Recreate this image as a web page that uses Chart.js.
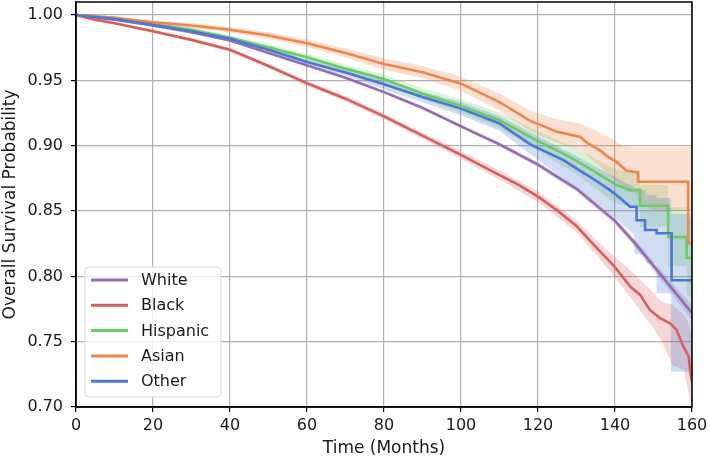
<!DOCTYPE html>
<html>
<head>
<meta charset="utf-8">
<script src="https://cdn.jsdelivr.net/npm/chart.js@4.4.1/dist/chart.umd.min.js"></script>
<style>
  html, body { margin: 0; padding: 0; background: #fff; }
  canvas { display: block; }
</style>
</head>
<body>
<canvas id="kmChart" width="709" height="460"></canvas>
<script>
// Kaplan-Meier survival by group
// repeated times = vertical drops of the step function
const groups = ["White", "Black", "Hispanic", "Asian", "Other"];
const colors = ["#956cb4", "#d65f5f", "#6acc64", "#ee854a", "#4878d0"];
const bandColors = ["rgba(149,108,180,0.25)", "rgba(214,95,95,0.25)", "rgba(106,204,100,0.25)", "rgba(238,133,74,0.25)", "rgba(72,120,208,0.25)"];
const xTicks = [0, 20, 40, 60, 80, 100, 120, 140, 160];
const yTicks = [0.70, 0.75, 0.80, 0.85, 0.90, 0.95, 1.00];

const whiteT = [0, 10, 20, 30, 40, 50, 60, 70, 80, 90, 100, 110, 120, 130, 140, 145, 150, 155, 160];
const whiteS = [1.000, 0.9965, 0.992, 0.9869, 0.9805, 0.971, 0.9615, 0.952, 0.941, 0.929, 0.9148, 0.901, 0.8855, 0.867, 0.8425, 0.826, 0.808, 0.790, 0.772];
const whiteBandT = whiteT;
const whiteHi = [1.000, 0.997, 0.9928, 0.9879, 0.9815, 0.972, 0.9627, 0.9532, 0.9423, 0.9305, 0.9163, 0.9027, 0.8875, 0.8692, 0.8451, 0.829, 0.8115, 0.7945, 0.778];
const whiteLo = [1.000, 0.996, 0.9912, 0.9859, 0.9795, 0.970, 0.9603, 0.9508, 0.9397, 0.9275, 0.9133, 0.8993, 0.8835, 0.8648, 0.8399, 0.823, 0.8045, 0.7855, 0.766];

const blackT = [0, 5, 10, 20, 30, 40, 50, 60, 70, 80, 90, 100, 110, 115, 120, 125, 130, 135, 140, 144, 146.5, 149, 151.7, 154.3, 156, 157.8, 159.1, 159.6, 160];
const blackS = [1.000, 0.9965, 0.9937, 0.9876, 0.981, 0.9734, 0.961, 0.9478, 0.936, 0.9225, 0.9077, 0.893, 0.8775, 0.870, 0.861, 0.8505, 0.8385, 0.8225, 0.807, 0.792, 0.786, 0.7745, 0.768, 0.764, 0.759, 0.746, 0.739, 0.726, 0.719];
const blackBandT = [0, 5, 10, 20, 30, 40, 50, 60, 70, 80, 90, 100, 110, 120, 130, 135, 140, 145, 150, 152, 155, 158, 159, 160];
const blackHi = [1.000, 0.9975, 0.9947, 0.9888, 0.9823, 0.9748, 0.9625, 0.9495, 0.938, 0.9247, 0.9102, 0.896, 0.881, 0.865, 0.843, 0.828, 0.815, 0.802, 0.787, 0.781, 0.778, 0.770, 0.765, 0.755];
const blackLo = [1.000, 0.9955, 0.9927, 0.9864, 0.9797, 0.972, 0.9595, 0.9461, 0.934, 0.9203, 0.9052, 0.890, 0.874, 0.857, 0.834, 0.817, 0.799, 0.780, 0.760, 0.751, 0.732, 0.728, 0.712, 0.700];

const hispT = [0, 10, 20, 30, 40, 50, 60, 70, 80, 90, 100, 110, 120, 126.6, 132.6, 137, 140.4, 143.9, 146.5, 146.5, 153.8, 153.8, 158.6, 158.6, 160];
const hispS = [1.000, 0.998, 0.993, 0.9887, 0.9826, 0.9754, 0.9678, 0.959, 0.951, 0.9398, 0.9305, 0.9195, 0.9035, 0.894, 0.884, 0.876, 0.870, 0.866, 0.866, 0.854, 0.854, 0.830, 0.830, 0.814, 0.814];
const hispBandT = [0, 10, 20, 30, 40, 50, 60, 70, 80, 90, 100, 110, 120, 130, 140, 146.5, 146.5, 153.8, 153.8, 158.6, 158.6, 160];
const hispHi = [1.000, 0.9988, 0.9942, 0.9902, 0.9844, 0.9774, 0.9703, 0.962, 0.9545, 0.9438, 0.9355, 0.9255, 0.911, 0.898, 0.882, 0.878, 0.870, 0.870, 0.853, 0.853, 0.845, 0.845];
const hispLo = [1.000, 0.9972, 0.9918, 0.9872, 0.9808, 0.9734, 0.9653, 0.956, 0.9475, 0.9358, 0.9255, 0.9135, 0.896, 0.878, 0.856, 0.852, 0.838, 0.838, 0.808, 0.808, 0.785, 0.785];

const asianT = [0, 10, 20, 30, 40, 50, 60, 70, 80, 90, 100, 110, 118, 125, 131, 133, 136, 138.2, 140.4, 143, 146, 146, 159, 159, 160];
const asianS = [1.000, 0.998, 0.9945, 0.992, 0.9887, 0.9843, 0.9785, 0.971, 0.9625, 0.9563, 0.9475, 0.9334, 0.919, 0.9106, 0.9067, 0.9017, 0.8966, 0.8915, 0.8876, 0.8808, 0.8795, 0.8724, 0.8724, 0.8253, 0.8253];
const asianBandT = [0, 10, 20, 30, 40, 50, 60, 70, 80, 90, 100, 110, 118, 125, 131, 136, 140, 143, 146, 146, 150, 160];
const asianHi = [1.000, 0.9988, 0.996, 0.994, 0.9908, 0.9868, 0.9815, 0.9745, 0.967, 0.961, 0.953, 0.940, 0.927, 0.920, 0.917, 0.910, 0.904, 0.899, 0.899, 0.899, 0.899, 0.899];
const asianLo = [1.000, 0.9972, 0.993, 0.990, 0.9866, 0.9818, 0.9755, 0.9675, 0.958, 0.9516, 0.942, 0.9268, 0.911, 0.902, 0.897, 0.884, 0.874, 0.866, 0.862, 0.858, 0.850, 0.850];

const otherT = [0, 10, 20, 30, 40, 50, 60, 70, 80, 90, 100, 110, 118, 126.6, 130.9, 135.2, 138.7, 141.3, 143.9, 145.6, 145.6, 147.8, 147.8, 150.8, 150.8, 154.7, 154.7, 160];
const otherS = [1.000, 0.997, 0.9925, 0.9876, 0.9818, 0.9734, 0.964, 0.956, 0.947, 0.9373, 0.9284, 0.917, 0.901, 0.889, 0.881, 0.873, 0.866, 0.860, 0.8533, 0.8533, 0.843, 0.843, 0.8355, 0.8355, 0.833, 0.833, 0.797, 0.797];
const otherBandT = [0, 10, 20, 30, 40, 50, 60, 70, 80, 90, 100, 110, 120, 130, 140, 143, 145, 145, 148, 148, 150.8, 150.8, 154.5, 154.5, 160];
const otherHi = [1.000, 0.9978, 0.9937, 0.989, 0.9834, 0.9752, 0.966, 0.9585, 0.951, 0.9413, 0.9334, 0.9225, 0.907, 0.892, 0.876, 0.871, 0.869, 0.866, 0.866, 0.862, 0.862, 0.860, 0.860, 0.848, 0.848];
const otherLo = [1.000, 0.9962, 0.9913, 0.9862, 0.9802, 0.9716, 0.962, 0.9535, 0.943, 0.9333, 0.9234, 0.9115, 0.889, 0.868, 0.845, 0.837, 0.832, 0.817, 0.817, 0.810, 0.810, 0.787, 0.787, 0.727, 0.727];

const series = [
  [whiteT, whiteS, whiteBandT, whiteHi, whiteLo],
  [blackT, blackS, blackBandT, blackHi, blackLo],
  [hispT, hispS, hispBandT, hispHi, hispLo],
  [asianT, asianS, asianBandT, asianHi, asianLo],
  [otherT, otherS, otherBandT, otherHi, otherLo],
];

const pts = (t, v) => t.map((x, i) => ({ x: x, y: v[i] }));

const datasets = [];
series.forEach(([t, s, bt, hi, lo], i) => {
  datasets.push({
    label: groups[i],
    data: pts(t, s),
    borderColor: colors[i],
    borderWidth: 2.6,
    pointRadius: 0,
    fill: false,
    order: 10 - i,
  });
  datasets.push({
    label: "_hi",
    data: pts(bt, hi),
    borderWidth: 0,
    borderColor: "rgba(0,0,0,0)",
    backgroundColor: bandColors[i],
    pointRadius: 0,
    fill: "+1",
    order: 30 - i,
  });
  datasets.push({
    label: "_lo",
    data: pts(bt, lo),
    borderWidth: 0,
    borderColor: "rgba(0,0,0,0)",
    pointRadius: 0,
    fill: false,
    order: 30 - i,
  });
});

// box around plot + matplotlib-style legend in lower left
const framePlugin = {
  id: "frame",
  afterDraw(chart) {
    const { ctx, chartArea: a } = chart;
    ctx.save();
    ctx.strokeStyle = "#000";
    ctx.lineWidth = 1.5;
    ctx.strokeRect(a.left, a.top, a.right - a.left, a.bottom - a.top);

    const x0 = 85, y0 = 267, w = 136, h = 130, r = 4;
    ctx.beginPath();
    ctx.roundRect(x0, y0, w, h, r);
    ctx.fillStyle = "rgba(255,255,255,0.8)";
    ctx.fill();
    ctx.strokeStyle = "#d9d9d9";
    ctx.lineWidth = 1;
    ctx.stroke();

    ctx.font = "16px 'DejaVu Sans'";
    ctx.textBaseline = "middle";
    groups.forEach((g, i) => {
      const y = 280 + i * 25.3;
      ctx.strokeStyle = colors[i];
      ctx.lineWidth = 3;
      ctx.beginPath();
      ctx.moveTo(91, y);
      ctx.lineTo(128, y);
      ctx.stroke();
      ctx.fillStyle = "#1a1a1a";
      ctx.fillText(g, 141, y + 1);
    });
    ctx.restore();
  },
};

Chart.defaults.font.family = "'DejaVu Sans', sans-serif";
Chart.defaults.font.size = 16;
Chart.defaults.color = "#1a1a1a";

new Chart(document.getElementById("kmChart").getContext("2d"), {
  type: "line",
  data: { datasets: datasets },
  options: {
    responsive: false,
    animation: false,
    devicePixelRatio: 1,
    layout: { padding: { top: 2, right: 17, left: 0, bottom: 0 } },
    plugins: {
      legend: { display: false },
      tooltip: { enabled: false },
    },
    scales: {
      x: {
        type: "linear",
        min: 0,
        max: 160,
        afterFit: (s) => { s.height = 53; s.paddingLeft = 0; s.paddingRight = 0; },
        afterBuildTicks: (s) => { s.ticks = xTicks.map((v) => ({ value: v })); },
        ticks: { padding: 4, color: "#1a1a1a", callback: (v) => String(v) },
        grid: { color: "#b0b0b0", lineWidth: 1.2, tickLength: 5, tickColor: "#000", tickWidth: 1.2 },
        border: { color: "#000", width: 1.5 },
        title: { display: true, text: "Time (Months)", font: { size: 17 }, padding: { top: 0, bottom: 1 }, color: "#1a1a1a" },
      },
      y: {
        min: 0.7,
        max: 1.01,
        afterFit: (s) => { s.width = 76; s.paddingTop = 0; s.paddingBottom = 0; },
        afterBuildTicks: (s) => { s.ticks = yTicks.map((v) => ({ value: v })); },
        ticks: { padding: 8, color: "#1a1a1a", callback: (v) => v.toFixed(2) },
        grid: { color: "#b0b0b0", lineWidth: 1.2, tickLength: 5, tickColor: "#000", tickWidth: 1.2 },
        border: { color: "#000", width: 1.5 },
        title: { display: true, text: "Overall Survival Probability", font: { size: 17 }, padding: { top: 0, bottom: 0 }, color: "#1a1a1a" },
      },
    },
  },
  plugins: [framePlugin],
});
</script>
</body>
</html>
